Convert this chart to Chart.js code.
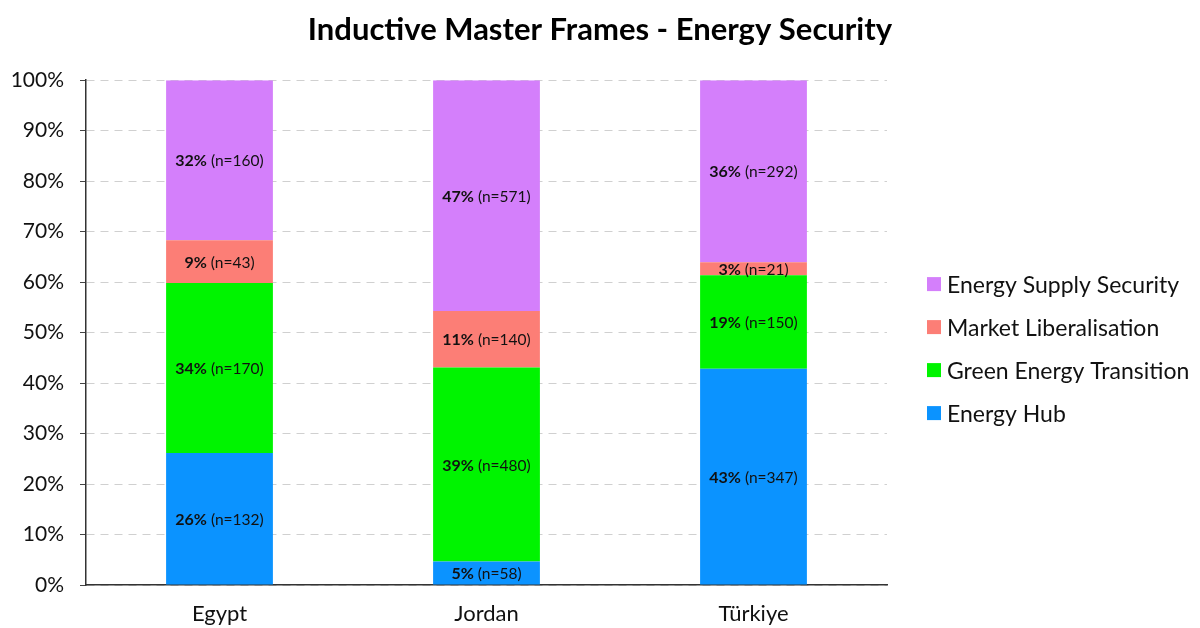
<!DOCTYPE html>
<html>
<head>
<meta charset="utf-8">
<script src="https://cdn.jsdelivr.net/npm/chart.js@4.4.1/dist/chart.umd.min.js"></script>
<style>
  html, body { margin: 0; padding: 0; background: #ffffff; }
  #wrap { width: 1200px; height: 628px; position: relative; }
</style>
</head>
<body>
<div id="wrap"><canvas id="chart" width="1200" height="628"></canvas></div>
<script>
// Countries on the x axis
const countries = ['Egypt', 'Jordan', 'Türkiye'];

// Article counts per frame and country
const hubCounts = [132, 58, 347];
const greenCounts = [170, 480, 150];
const marketCounts = [43, 140, 21];
const supplyCounts = [160, 571, 292];

// Rounded shares printed inside each segment
const hubShareText = ['26%', '5%', '43%'];
const greenShareText = ['34%', '39%', '19%'];
const marketShareText = ['9%', '11%', '3%'];
const supplyShareText = ['32%', '47%', '36%'];

// Y axis tick values (percent)
const yTicks = [0, 10, 20, 30, 40, 50, 60, 70, 80, 90, 100];

const FONT = 'Lato, "Open Sans", "DejaVu Sans", sans-serif';

const totals = countries.map((_, i) =>
  hubCounts[i] + greenCounts[i] + marketCounts[i] + supplyCounts[i]);
const toShare = arr => arr.map((v, i) => v / totals[i] * 100);

// Draws "xx% (n=..)" centred in every bar segment
const segmentLabels = {
  id: 'segmentLabels',
  afterDatasetsDraw(chart) {
    const ctx = chart.ctx;
    ctx.save();
    ctx.textBaseline = 'middle';
    ctx.fillStyle = '#111111';
    chart.data.datasets.forEach((ds, di) => {
      const meta = chart.getDatasetMeta(di);
      meta.data.forEach((bar, i) => {
        const pct = ds.shareText[i];
        const nTxt = ' (n=' + ds.counts[i] + ')';
        const boldFont = 'bold 16px ' + FONT;
        const normFont = '15.5px ' + FONT;
        ctx.font = boldFont;
        const w1 = ctx.measureText(pct).width;
        ctx.font = normFont;
        const w2 = ctx.measureText(nTxt).width;
        const x0 = bar.x - (w1 + w2) / 2;
        const y = (bar.y + bar.base) / 2 + 1;
        ctx.textAlign = 'left';
        ctx.font = boldFont;
        ctx.fillText(pct, x0, y);
        ctx.font = normFont;
        ctx.fillText(nTxt, x0 + w1, y);
      });
    });
    ctx.restore();
  }
};

// Legend drawn in the reserved strip right of the plot, top series first
const sideLegend = {
  id: 'sideLegend',
  afterDraw(chart) {
    const ctx = chart.ctx;
    const area = chart.chartArea;
    const x = area.right + 40;
    const rowGap = 43;
    const n = chart.data.datasets.length;
    const midY = (area.top + area.bottom) / 2 + 16;
    const y0 = midY - (n - 1) * rowGap / 2;
    ctx.save();
    ctx.font = '23px ' + FONT;
    ctx.textBaseline = 'middle';
    ctx.textAlign = 'left';
    chart.data.datasets.slice().reverse().forEach((ds, k) => {
      const y = y0 + k * rowGap;
      ctx.fillStyle = ds.backgroundColor;
      ctx.fillRect(x, y - 7, 14, 14);
      ctx.fillStyle = '#111111';
      ctx.fillText(ds.label, x + 20, y + 1);
    });
    ctx.restore();
  }
};

const datasets = [
  { label: 'Energy Hub', data: toShare(hubCounts), counts: hubCounts, shareText: hubShareText, backgroundColor: '#0B93FF' },
  { label: 'Green Energy Transition', data: toShare(greenCounts), counts: greenCounts, shareText: greenShareText, backgroundColor: '#00F400' },
  { label: 'Market Liberalisation', data: toShare(marketCounts), counts: marketCounts, shareText: marketShareText, backgroundColor: '#FC7E76' },
  { label: 'Energy Supply Security', data: toShare(supplyCounts), counts: supplyCounts, shareText: supplyShareText, backgroundColor: '#D47FFB' }
];

new Chart(document.getElementById('chart'), {
  type: 'bar',
  data: { labels: countries, datasets },
  plugins: [segmentLabels, sideLegend],
  options: {
    responsive: false,
    animation: false,
    devicePixelRatio: 1,
    layout: { padding: { left: 0, right: 0, top: 11, bottom: 0 } },
    datasets: { bar: { categoryPercentage: 1, barPercentage: 0.4, borderWidth: 0 } },
    plugins: {
      title: {
        display: true,
        text: 'Inductive Master Frames - Energy Security',
        color: '#000000',
        font: { family: FONT, size: 31, weight: 'bold' },
        padding: { top: 0, bottom: 32 }
      },
      legend: { display: false },
      tooltip: { enabled: false }
    },
    scales: {
      x: {
        stacked: true,
        grid: { display: false, drawTicks: false },
        border: { display: true, color: '#333333', width: 1.5 },
        ticks: { color: '#111111', font: { family: FONT, size: 22 }, padding: 16 },
        afterFit(scale) { scale.height = 43; }
      },
      y: {
        stacked: true,
        min: 0,
        max: 100,
        afterBuildTicks(axis) { axis.ticks = yTicks.map(v => ({ value: v })); },
        grid: { color: '#d0d0d0', lineWidth: 1, tickLength: 6, tickColor: '#444444', tickBorderDash: [] },
        border: { display: true, color: '#333333', width: 1.5, dash: [8, 6] },
        ticks: { color: '#111111', font: { family: FONT, size: 21 }, padding: 16, callback: v => v + '%' },
        afterFit(scale) { scale.width = 86; }
      },
      // empty strip on the right that holds the legend
      legendStrip: {
        type: 'linear',
        position: 'right',
        display: true,
        grid: { display: false, drawTicks: false },
        border: { display: false },
        ticks: { display: false },
        afterFit(scale) { scale.width = 313; }
      }
    }
  }
});
</script>
</body>
</html>
